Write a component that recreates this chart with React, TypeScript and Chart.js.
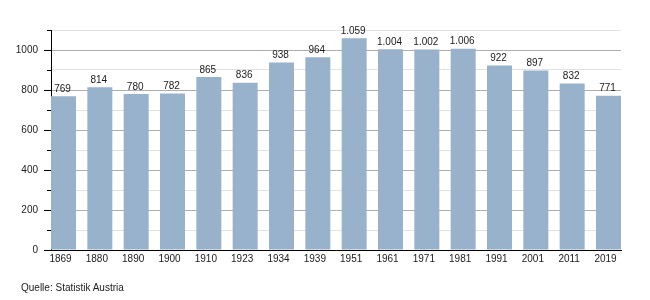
import React, { useEffect, useRef } from "react";
import { Chart, registerables } from "chart.js";

Chart.register(...registerables);

const years = ["1869", "1880", "1890", "1900", "1910", "1923", "1934", "1939", "1951", "1961", "1971", "1981", "1991", "2001", "2011", "2019"];
const values = [769, 814, 780, 782, 865, 836, 938, 964, 1059, 1004, 1002, 1006, 922, 897, 832, 771];
const sourceText = "Quelle: Statistik Austria";

const FONT = "'Liberation Sans', Arial, sans-serif";
const BAR = "#98b2cb";
const TEXT = "#1a1a1a";

const valueLabels = {
  id: "valueLabels",
  afterDatasetsDraw(chart: any) {
    const ctx = chart.ctx;
    const meta = chart.getDatasetMeta(0);
    ctx.save();
    ctx.font = `10px ${FONT}`;
    ctx.fillStyle = TEXT;
    ctx.textAlign = "center";
    ctx.textBaseline = "alphabetic";
    meta.data.forEach((el: any, i: number) => {
      ctx.fillText(values[i].toLocaleString("de-DE"), el.x - 1, el.y - 4.5);
    });
    ctx.restore();
  },
};

const minorTicks = {
  id: "minorTicks",
  afterDraw(chart: any) {
    const y = chart.scales.y;
    const ctx = chart.ctx;
    ctx.save();
    ctx.strokeStyle = "#000";
    ctx.lineWidth = 1;
    y.ticks.forEach((t: any, i: number) => {
      if (t.value % 200 === 0) return;
      const py = Math.round(y.getPixelForTick(i)) + 0.5;
      ctx.beginPath();
      ctx.moveTo(chart.chartArea.left - 4, py);
      ctx.lineTo(chart.chartArea.left, py);
      ctx.stroke();
    });
    ctx.restore();
  },
};

export default function App() {
  const ref = useRef<HTMLCanvasElement>(null);
  useEffect(() => {
    document.body.style.margin = "0";
    const chart = new Chart(ref.current!, {
      type: "bar",
      data: {
        datasets: [
          {
            data: values.map((v, i) => ({ x: i, y: v })),
            backgroundColor: BAR,
            borderWidth: 0,
            barPercentage: 0.688,
            categoryPercentage: 1,
          },
        ],
      },
      options: {
        animation: false,
        responsive: false,
        layout: { padding: { top: 30, right: 29, left: 0, bottom: 0 } },
        plugins: { legend: { display: false }, tooltip: { enabled: false } },
        scales: {
          x: {
            type: "linear",
            offset: false,
            min: -0.344,
            max: 15.344,
            grid: { display: false, drawTicks: false },
            border: { display: true, color: "#000", width: 1 },
            afterBuildTicks: (s: any) => {
              s.ticks = years.map((_, i) => ({ value: i }));
            },
            afterFit: (s: any) => {
              s.height = 50;
            },
            ticks: {
              autoSkip: false,
              maxRotation: 0,
              padding: 3,
              labelOffset: -3,
              color: TEXT,
              font: { family: FONT, size: 10 },
              callback: (v: any) => years[v] ?? "",
            },
          },
          y: {
            min: 0,
            max: 1100,
            afterFit: (s: any) => {
              s.width = 51;
            },
            grid: {
              color: (c: any) => (c.tick && c.tick.value % 200 === 0 ? "#aeaeae" : "#e2e2e2"),
              tickColor: (c: any) => (c.tick && c.tick.value % 200 === 0 ? "#000" : "rgba(0,0,0,0)"),
              tickLength: 7,
            },
            border: { display: true, color: "#000", width: 1 },
            ticks: {
              stepSize: 100,
              padding: 6,
              color: TEXT,
              font: { family: FONT, size: 10 },
              callback: (v: any) => (v % 200 === 0 ? String(v) : ""),
            },
          },
        },
      },
      plugins: [valueLabels, minorTicks],
    });
    return () => chart.destroy();
  }, []);
  return (
    <div style={{ position: "absolute", left: 0, top: 0, width: 650, height: 300 }}>
      <canvas ref={ref} width={650} height={300} style={{ display: "block" }} />
      <div
        style={{
          position: "absolute",
          left: 21,
          top: 282,
          fontFamily: FONT,
          fontSize: 10,
          color: TEXT,
          lineHeight: "12px",
          whiteSpace: "nowrap",
        }}
      >
        {sourceText}
      </div>
    </div>
  );
}
